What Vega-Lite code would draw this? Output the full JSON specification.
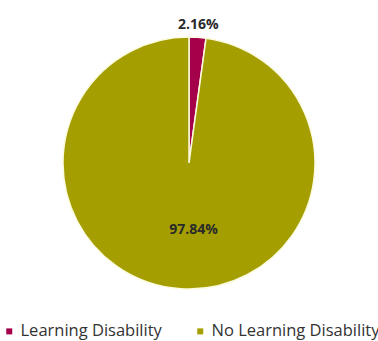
{
  "$schema": "https://vega.github.io/schema/vega-lite/v6.json",
  "width": 378,
  "height": 326,
  "padding": {"left": 0, "right": 0, "top": 0, "bottom": 15},
  "autosize": {"type": "none"},
  "background": "white",
  "config": {"view": {"stroke": null}, "font": "Open Sans"},
  "data": {"values": [
    {"category": "Learning Disability", "value": 2.16, "label": "2.16%"},
    {"category": "No Learning Disability", "value": 97.84, "label": "97.84%"}
  ]},
  "encoding": {
    "theta": {"field": "value", "type": "quantitative", "stack": true},
    "order": {"field": "category", "sort": "ascending"}
  },
  "layer": [
    {
      "mark": {"type": "arc", "outerRadius": 126, "stroke": "#fbfbe0", "strokeWidth": 1.5},
      "encoding": {
        "color": {
          "field": "category", "type": "nominal",
          "scale": {"domain": ["Learning Disability", "No Learning Disability"], "range": ["#a5004a", "#a59e00"]},
          "legend": {
            "title": null, "orient": "none", "direction": "horizontal",
            "legendX": 1, "legendY": 323,
            "symbolType": "square", "symbolSize": 36, "symbolStrokeWidth": 0,
            "labelFontSize": 16.5, "labelColor": "#333333", "labelFont": "Open Sans",
            "labelLimit": 300,
            "columnPadding": 30, "labelOffset": 3
          }
        }
      }
    },
    {
      "mark": {"type": "text", "fontSize": 14, "fontWeight": "bold", "color": "#2a2a2a"},
      "encoding": {
        "text": {"field": "label", "type": "nominal"},
        "radius": {"field": "category", "type": "nominal", "scale": {"type": "ordinal", "domain": ["Learning Disability", "No Learning Disability"], "range": [138, 67]}, "legend": null}
      }
    }
  ]
}
